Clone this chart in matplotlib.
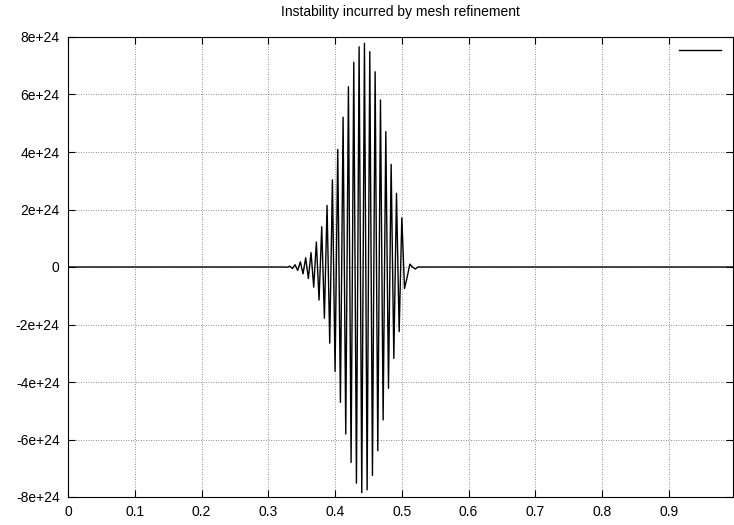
import matplotlib
matplotlib.use("Agg")
import matplotlib.pyplot as plt
import numpy as np
from matplotlib.ticker import FuncFormatter

# mesh: 250 nodes, spacing 0.004
n_nodes = 250
h = 0.004
burst_start = 82  # first node of the oscillating region
# values (in units of 1e24) at nodes 82..131, zero elsewhere
burst = [-0.01, 0.03, -0.05, 0.08, -0.12, 0.18, -0.24, 0.32, -0.40, 0.50,
         -0.70, 0.87, -1.15, 1.40, -1.78, 2.14, -2.65, 3.03, -3.63, 4.09,
         -4.71, 5.21, -5.81, 6.27, -6.80, 7.12, -7.52, 7.66, -7.85, 7.78,
         -7.75, 7.49, -7.25, 6.79, -6.39, 5.81, -5.32, 4.71, -4.22, 3.57,
         -3.18, 2.56, -2.25, 1.71, -0.75, -0.35, 0.10, 0.0, -0.07, 0.0]

x = np.arange(n_nodes) * h
u = np.zeros(n_nodes)
u[burst_start:burst_start + len(burst)] = np.array(burst) * 1e24

plt.rcParams['font.family'] = ['Liberation Sans', 'DejaVu Sans']
plt.rcParams['font.size'] = 10

fig = plt.figure(figsize=(7.34, 5.25), dpi=100)
ax = fig.add_axes([68 / 734, 1 - 497 / 525, 665 / 734, 460 / 525])

ax.plot(x, u, color='black', linewidth=1.0, label=' ')

ax.set_xlim(0, x[-1])
ax.set_ylim(-8e24, 8e24)
ax.set_xticks(np.arange(0, 1.0, 0.1))
ax.xaxis.set_major_formatter(FuncFormatter(lambda v, p: f"{v:g}"))
ax.set_yticks(np.arange(-8e24, 8.1e24, 2e24))
ax.yaxis.set_major_formatter(
    FuncFormatter(lambda v, p: "0" if abs(v) < 1e20 else f"{v / 1e24:g}e+24"))

ax.tick_params(direction='in', top=True, right=True, length=5, width=0.8,
               labelsize=10, pad=6)
ax.grid(True, linestyle=(0, (1, 2)), color='black', linewidth=0.6, alpha=0.6)
for s in ax.spines.values():
    s.set_linewidth(0.8)

ax.set_title("Instability incurred by mesh refinement", fontsize=10, pad=15)

leg = ax.legend(loc='upper right', frameon=False, handlelength=3.0,
                handletextpad=0.1, borderaxespad=0.1, fontsize=10)

fig.savefig("out.png", dpi=100)
